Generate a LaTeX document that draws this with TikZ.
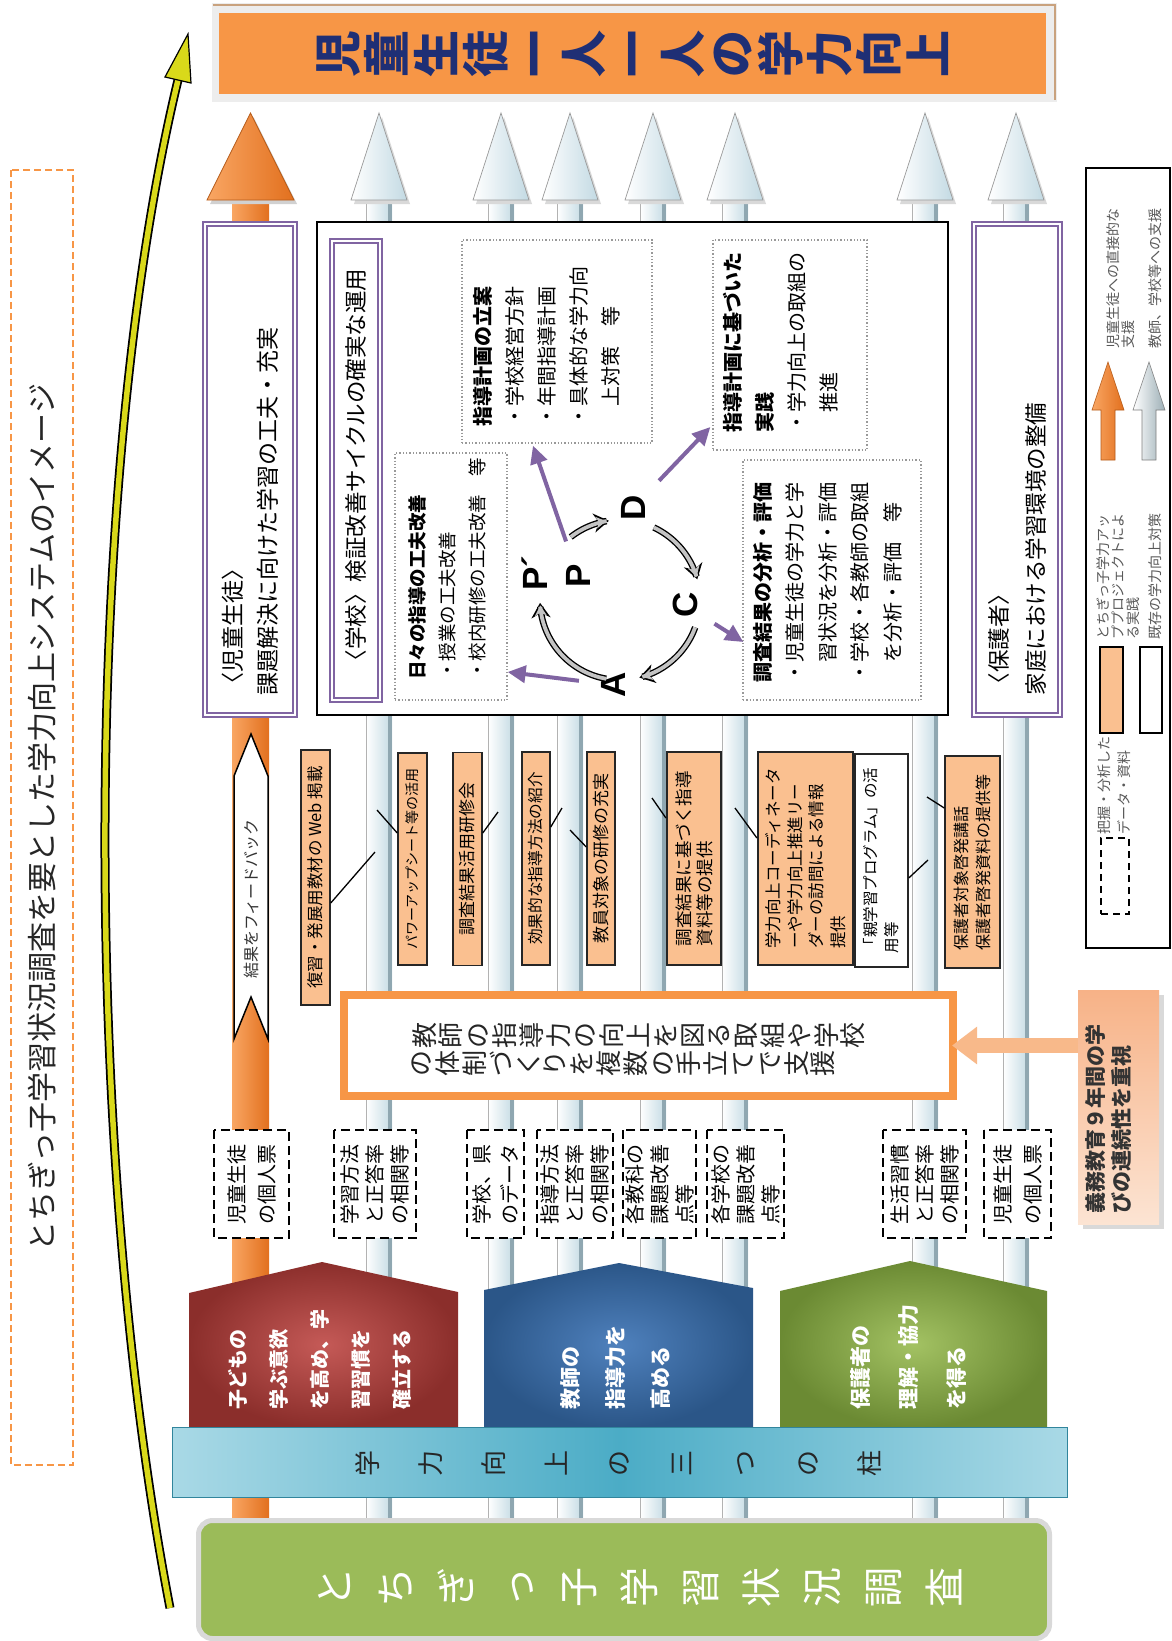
\documentclass[tikz,border=0pt]{standalone}
\usepackage{fontspec}
\setmainfont{Noto Sans CJK JP}
\newfontfamily\latf{Liberation Sans}
\usetikzlibrary{arrows.meta,calc}
\definecolor{orng}{HTML}{F79646}
\definecolor{orngl}{HTML}{F9A663}
\definecolor{orngd}{HTML}{E2701E}
\definecolor{peach}{HTML}{FAC090}
\definecolor{purp}{HTML}{8064A2}
\definecolor{navy}{HTML}{1F2F75}
\definecolor{tanc}{HTML}{C9A27E}
\definecolor{yel}{HTML}{D9D91A}
\definecolor{shaftb}{HTML}{C3DAE3}
\definecolor{shaftd}{HTML}{8FA7B1}
\definecolor{redin}{HTML}{C55A57}
\definecolor{redout}{HTML}{8B2E2B}
\definecolor{bluin}{HTML}{4F81BD}
\definecolor{bluout}{HTML}{2B5688}
\definecolor{grnin}{HTML}{A3C263}
\definecolor{grnout}{HTML}{6B8A33}
\definecolor{barl}{HTML}{A9D9E6}
\definecolor{barm}{HTML}{4BACC6}
\definecolor{bard}{HTML}{31859C}
\definecolor{grnb}{HTML}{9BBB59}
\definecolor{rbl}{HTML}{F7B287}
\definecolor{rbr}{HTML}{FCE4D3}
\definecolor{farr}{HTML}{F8B98A}
\definecolor{cycg}{HTML}{C4C4C4}
\newcommand\fsz[2]{\fontsize{#1}{#2}\selectfont}
% stack characters one per line (used inside rotated nodes -> tategaki look)
\def\tvend{TVEND}
\def\tvs#1{\tvsfirst#1\tvend\tvacc}
\def\tvsfirst#1{\def\tvacc{#1}\tvsloop}
\def\tvsloop#1{\ifx#1\tvend\else\tvsadd{#1}\expandafter\tvsloop\fi}
\def\tvsadd#1{\expandafter\def\expandafter\tvacc\expandafter{\tvacc\\#1}}
\begin{document}
\begin{tikzpicture}[x=1pt,y=-1pt,
  rtxt/.style={rotate=90, inner sep=0pt, align=left, anchor=north west},
  vtxt/.style={rotate=90, inner sep=0pt, align=center},
  dotbox/.style={draw=black!40, dotted, line width=1.3pt, inner sep=0pt},
  dbox/.style={rotate=90, draw=black, line width=2.4pt, dash pattern=on 9pt off 5pt, fill=white, inner sep=0pt, align=left, minimum width=108pt},
  obox/.style={rotate=90, draw=black!85, line width=1.5pt, fill=peach, inner sep=0pt, align=left, minimum width=213pt},
  pbox/.style={rotate=90, draw=purp, double=white, double distance=2pt, line width=2pt, fill=white, inner sep=0pt, align=left},
  letter/.style={rotate=90, inner sep=0pt, font=\latf\bfseries\fsz{35}{36}},
  parr/.style={draw=purp, line width=4pt, -{Triangle[length=18pt,width=17pt]}},
  conn/.style={draw=black, line width=1.3pt},
  ltxt/.style={rotate=90, inner sep=0pt, align=left, anchor=north west, text=black!65, font=\fsz{14}{15}},
]
\useasboundingbox (0,0) rectangle (1172,1641);
\fill[white] (0,0) rectangle (1172,1641);

% yellow curved arrow
\draw[line width=9pt, black] (170,1608) .. controls (82,1150) and (82,480) .. (178,80);
\draw[line width=5.5pt, yel] (170,1608) .. controls (82,1150) and (82,480) .. (178,80);
\filldraw[fill=yel, draw=black, line width=1.2pt] (165,77) -- (188,34) -- (191,83) -- cycle;

% title
\node[rotate=90, draw=orng, dash pattern=on 7pt off 4pt, line width=1.5pt, minimum width=1295pt, minimum height=62pt, inner sep=0pt, font=\fsz{30}{36}, text=black!85] (ttl) at (42,817.5) {とちぎっ子学習状況調査を要とした学力向上システムのイメージ};

% banner
\fill[black!7] (212,3) rectangle (1057,102);
\draw[tanc, line width=2pt] (213,5) -- (1055,5) -- (1055,100);
\node[vtxt, fill=orng, minimum width=81pt, minimum height=827pt, font=\fsz{47}{49.2}\bfseries, text=navy] (ban) at (632.5,53.5) {\tvs{児童生徒一人一人の学力向上}};

% shafts
\foreach \sx in {379,501,570,653,735,925,1016}{
  \shade[left color=white, right color=shaftb] (\sx-13,199) rectangle (\sx+13,1522);
  \fill[shaftd] (\sx+8.5,199) rectangle (\sx+13,1522);
  \draw[black!30, line width=0.6pt] (\sx-13,199) -- (\sx-13,1522);
  \fill[black!15] (\sx+3,117) -- (\sx+31,204) -- (\sx-25,204) -- cycle;
  \shadedraw[left color=white, right color=shaftb, draw=black!40, line width=0.7pt] (\sx,113) -- (\sx+28,200) -- (\sx-28,200) -- cycle;
}
\shade[left color=orngl, right color=orngd] (232,199) rectangle (269,1522);
\fill[black!18] (253.5,117) -- (297,204) -- (210,204) -- cycle;
\shadedraw[left color=orngl, right color=orngd, draw=orngd!80!black, line width=0.7pt] (250.5,113) -- (294,200) -- (207,200) -- cycle;

% students / parents
\node[pbox, minimum width=491pt, minimum height=90pt, text width=452pt, font=\fsz{23}{35}] (stu) at (250,469) {〈児童生徒〉\\課題解決に向けた学習の工夫・充実};
\node[pbox, minimum width=491pt, minimum height=86pt, text width=452pt, font=\fsz{22.5}{37}] (par) at (1017,469) {〈保護者〉\\家庭における学習環境の整備};

% feedback arrow
\filldraw[fill=white, draw=black, line width=1.5pt] (251,734) -- (268,776) -- (268,1039) -- (251,997) -- (234,1039) -- (234,776) -- cycle;
\node[rotate=90, font=\fsz{16}{18}, inner sep=0pt, text=black!80] (fb) at (251,899) {結果をフィードバック};

% school box
\node[draw=black, line width=2.5pt, fill=white, minimum width=631pt, minimum height=493pt, inner sep=0pt] (sch) at (632.5,468.5) {};
\node[pbox, minimum width=459pt, minimum height=48pt, font=\fsz{22.5}{26}] (stt) at (356,470.5) {〈学校〉検証改善サイクルの確実な運用};

\node[dotbox, minimum width=112pt, minimum height=247pt] (b1) at (451,576.5) {};
\node[rtxt, font=\fsz{18.5}{30}] (t1) at (408,680) {{\bfseries 日々の指導の工夫改善}\\・授業の工夫改善\\・校内研修の工夫改善　等};
\node[dotbox, minimum width=190pt, minimum height=203pt] (b2) at (557,341.5) {};
\node[rtxt, font=\fsz{20}{32}] (t2) at (473,427) {{\bfseries 指導計画の立案}\\・学校経営方針\\・年間指導計画\\・具体的な学力向\\　上対策　等};
\node[dotbox, minimum width=154pt, minimum height=210pt] (b3) at (790,345) {};
\node[rtxt, font=\fsz{20}{32}] (t3) at (723,433) {{\bfseries 指導計画に基づいた}\\{\bfseries 実践}\\・学力向上の取組の\\　推進};
\node[dotbox, minimum width=178pt, minimum height=240pt] (b4) at (832,580) {};
\node[rtxt, font=\fsz{20}{32.5}] (t4) at (753,683) {{\bfseries 調査結果の分析・評価}\\・児童生徒の学力と学\\　習状況を分析・評価\\・学校・各教師の取組\\　を分析・評価　等};

% cycle
\node[letter] (Pp) at (535,573) {P´};
\node[letter] (P) at (578,576) {P};
\node[letter] (D) at (633,508) {D};
\node[letter] (C) at (685,605) {C};
\node[letter] (A) at (613,685) {A};
\foreach \a/\b in {232/262, 295/345, 20/76, 100/178}{
  \draw[line width=6.5pt, black, -{Stealth[length=15pt,width=19pt]}] plot[domain=\a:\b, samples=16, smooth] ({620+80*cos(\x)},{600+80*sin(\x)});
  \draw[line width=3.8pt, cycg, shorten >=2.6pt, -{Stealth[length=10.5pt,width=12pt]}] plot[domain=\a:\b, samples=16, smooth] ({620+80*cos(\x)},{600+80*sin(\x)});
}
\draw[parr, shorten <=22pt] (A) -- ($(b1.east)+(0,95.5)$);
\draw[parr, shorten <=24pt] (P) -- ($(b2.south)+(-24,2)$);
\draw[parr, shorten <=20pt] (D) -- ($(b3.west)+(-2,82)$);
\draw[parr, shorten <=20pt] (C) -- ($(b4.west)+(1,62)$);

% orange small boxes
\node[obox, minimum width=255pt, minimum height=29pt, font=\fsz{16.5}{20}] (oa) at (315.5,877.5) {復習・発展用教材の Web 掲載};
\node[obox, minimum width=212pt, minimum height=29pt, font=\fsz{14}{18}] (ob) at (412.5,859) {パワーアップシート等の活用};
\node[obox, minimum height=29pt, font=\fsz{17}{20}] (oc) at (467.5,859) {調査結果活用研修会};
\node[obox, minimum height=28pt, font=\fsz{15.7}{20}] (od) at (536,858.5) {効果的な指導方法の紹介};
\node[obox, minimum height=28pt, font=\fsz{17}{20}] (oe) at (601,858.5) {教員対象の研修の充実};
\node[obox, line width=2.2pt, minimum height=54pt, font=\fsz{17.5}{21}] (of) at (694,858.5) {調査結果に基づく指導\\資料等の提供};
\node[obox, line width=2.2pt, minimum height=95pt, font=\fsz{16.5}{21.5}] (og) at (805.5,858.5) {学力向上コーディネータ\\ーや学力向上推進リー\\ダーの訪問による情報\\提供};
\node[obox, fill=white, minimum height=53pt, font=\fsz{15.5}{21}] (oh) at (881.5,860.5) {「親学習プログラム」の活\\用等};
\node[obox, minimum height=55pt, minimum width=212pt, font=\fsz{16}{22}] (oi) at (972.5,862) {保護者対象啓発講話\\保護者啓発資料の提供等};
\coordinate (ka) at (375,852);
\coordinate (kb) at (377,810);
\coordinate (kc) at (498,812);
\coordinate (kd) at (562,808);
\coordinate (ke) at (570,830);
\coordinate (kf) at (652,798);
\coordinate (kg) at (735,808);
\coordinate (kh) at (928,860);
\coordinate (ki) at (927,797);
\draw[conn] ($(oa.south)+(0,25.5)$) -- (ka);
\draw[conn] ($(ob.north)+(0,-26)$) -- (kb);
\draw[conn] ($(oc.south)+(0,-26)$) -- (kc);
\draw[conn] ($(od.south)+(0,-31.5)$) -- (kd);
\draw[conn] ($(oe.north)+(0,-11.5)$) -- (ke);
\draw[conn] ($(of.north)+(0,-40.5)$) -- (kf);
\draw[conn] ($(og.north)+(0,-20.5)$) -- (kg);
\draw[conn] ($(oh.south)+(0,17.5)$) -- (kh);
\draw[conn] ($(oi.north)+(0,-54)$) -- (ki);

% central box
\node[draw=orng, line width=8pt, fill=white, minimum width=609pt, minimum height=101pt, inner sep=0pt] (cb) at (648.5,1045.5) {};
\draw[orng, line width=1.3pt] ([shift={(7,7)}]cb.north west) rectangle ([shift={(-7,-7)}]cb.south east);
\node[vtxt, anchor=north, font=\fsz{26}{26.8}, text=black!85] (ct1) at (412,1035) {\tvs{教師の指導力の向上を図る取組や学校}};
\node[vtxt, anchor=north, font=\fsz{26}{26.8}, text=black!85] (ct2) at (412,1063) {\tvs{の体制づくりを複数の手立てで支援}};

% right box
\fill[black!15] (1083,995) rectangle (1164,1229);
\node[rotate=90, top color=rbl, bottom color=rbr, minimum width=234pt, minimum height=81pt, inner sep=0pt] (rb) at (1118.5,1107) {};
\node[rtxt, font=\fsz{21}{26}\bfseries, text=black!80] (rbt) at (1085.5,1214) {義務教育９年間の学\\びの連続性を重視};
\draw[line width=15pt, draw=farr, -{Triangle[length=25pt,width=36pt]}, shorten >=-5pt] (rb.north |- cb.east) -- (cb.east);

% dashed data boxes
\node[dbox, minimum height=75pt, font=\fsz{20}{30}] (d1) at (251.5,1184) {児童生徒\\の個人票};
\node[dbox, minimum height=82pt, font=\fsz{20}{25}] (d2) at (375,1184) {学習方法\\と正答率\\の相関等};
\node[dbox, minimum height=57pt, font=\fsz{20}{28}] (d3) at (495.5,1184) {学校、県\\のデータ};
\node[dbox, minimum height=76pt, font=\fsz{20}{25}] (d4) at (575,1184) {指導方法\\と正答率\\の相関等};
\node[dbox, minimum height=73pt, font=\fsz{20}{25}] (d5) at (659.5,1184) {各教科の\\課題改善\\点等};
\node[dbox, minimum height=77pt, font=\fsz{20}{25}] (d6) at (745.5,1184) {各学校の\\課題改善\\点等};
\node[dbox, minimum height=83pt, font=\fsz{20}{25}] (d7) at (924.5,1184) {生活習慣\\と正答率\\の相関等};
\node[dbox, minimum height=67pt, font=\fsz{20}{30}] (d8) at (1017.5,1184) {児童生徒\\の個人票};

% houses
\shade[inner color=redin, outer color=redout] (189,1293) -- (322,1262) -- (458,1292) -- (458,1427) -- (189,1427) -- cycle;
\shade[inner color=bluin, outer color=bluout] (484,1290) -- (619,1263) -- (753,1288) -- (753,1427) -- (484,1427) -- cycle;
\shade[inner color=grnin, outer color=grnout] (780,1291) -- (910,1261) -- (1047,1291) -- (1047,1427) -- (780,1427) -- cycle;
\node[rtxt, text=white, font=\fsz{20}{41}\bfseries] (h1) at (228,1410) {子どもの\\学ぶ意欲\\を高め、学\\習習慣を\\確立する};
\node[rtxt, text=white, font=\fsz{21}{45}\bfseries] (h2) at (560.5,1410) {教師の\\指導力を\\高める};
\node[rtxt, text=white, font=\fsz{21}{48}\bfseries] (h3) at (850,1410) {保護者の\\理解・協力\\を得る};

% blue bar
\node[draw=bard, line width=1pt, left color=barl, right color=barl, middle color=barm, minimum width=895pt, minimum height=70pt, inner sep=0pt] (bar) at (619.5,1462) {};
\node[vtxt, font=\fsz{26}{62.75}, text=black!85] (bart) at (619,1463) {\tvs{学力向上の三つの柱}};

% green bottom
\node[draw=black!15, line width=5pt, fill=grnb, rounded corners=14pt, minimum width=851pt, minimum height=118pt, inner sep=0pt] (gr) at (624,1579.5) {};
\node[vtxt, font=\fsz{40}{61}, text=white] (grt) at (640,1587) {\tvs{とちぎっ子学習状況調査}};

% legend
\node[draw=black, line width=1.5pt, fill=white, minimum width=84pt, minimum height=780pt, inner sep=0pt] (leg) at (1128,558) {};
\shadedraw[left color=orngl, right color=orngd, draw=orngd!80!black, line width=0.6pt] (1108,362) -- (1124,410) -- (1115,410) -- (1115,460) -- (1101,460) -- (1101,410) -- (1092,410) -- cycle;
\shadedraw[left color=white, right color=shaftb!80!black, draw=black!50, line width=0.6pt] (1149,362) -- (1165,410) -- (1156,410) -- (1156,460) -- (1142,460) -- (1142,410) -- (1133,410) -- cycle;
\node[ltxt] (l1) at (1106,349) {児童生徒への直接的な\\支援};
\node[ltxt] (l2) at (1148,349) {教師、学校等への支援};
\node[draw=black, line width=1.2pt, fill=peach, minimum width=23pt, minimum height=86pt, inner sep=0pt] (lsq1) at (1111.5,690) {};
\node[draw=black, line width=1.5pt, fill=white, minimum width=22pt, minimum height=86pt, inner sep=0pt] (lsq2) at (1151,690) {};
\node[ltxt] (l3) at (1096,640) {とちぎっ子学力アッ\\ププロジェクトによ\\る実践};
\node[ltxt] (l4) at (1148,640) {既存の学力向上対策};
\node[draw=black, line width=2.5pt, dash pattern=on 7pt off 5pt, minimum width=28pt, minimum height=76pt, inner sep=0pt] (lsq3) at (1115,876) {};
\node[ltxt, font=\fsz{14}{20}] (l5) at (1098,835) {把握・分析した\\データ・資料};
\end{tikzpicture}
\end{document}
